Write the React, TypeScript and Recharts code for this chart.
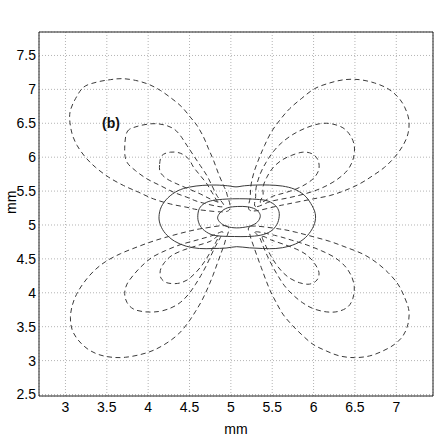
import { CartesianGrid, ComposedChart, Line, ReferenceLine, XAxis, YAxis } from "recharts";

type Pt = [number, number];

// x range and ticks, in mm
const xDomain: [number, number] = [2.68, 7.444];
const yDomain: [number, number] = [2.478, 7.846];
const xTicks = [3, 3.5, 4, 4.5, 5, 5.5, 6, 6.5, 7];
const yTicks = [2.5, 3, 3.5, 4, 4.5, 5, 5.5, 6, 6.5, 7, 7.5];

// dashed lobes (closed contours)
const upperLeftOuter: Pt[] = [
  [3.221, 7.034], [3.382, 7.108], [3.543, 7.143], [3.684, 7.158], [3.845, 7.133], [4.006, 7.074],
  [4.147, 6.985], [4.288, 6.862], [4.408, 6.739], [4.509, 6.591], [4.59, 6.468], [4.67, 6.296],
  [4.73, 6.123], [4.791, 5.951], [4.851, 5.754], [4.911, 5.581], [4.952, 5.458], [4.97, 5.21],
  [4.63, 5.222], [4.469, 5.261], [4.268, 5.31], [4.066, 5.384], [3.885, 5.483], [3.704, 5.581],
  [3.523, 5.704], [3.362, 5.852], [3.241, 6.0], [3.141, 6.172], [3.08, 6.345], [3.052, 6.542],
  [3.06, 6.69], [3.121, 6.862],
];
const upperLeftMiddle: Pt[] = [
  [3.744, 6.369], [3.865, 6.453], [4.046, 6.493], [4.187, 6.478], [4.308, 6.419], [4.388, 6.32],
  [4.469, 6.172], [4.549, 6.025], [4.63, 5.877], [4.71, 5.729], [4.771, 5.581], [4.831, 5.433],
  [4.91, 5.27], [4.63, 5.335], [4.469, 5.409], [4.308, 5.483], [4.147, 5.581], [3.986, 5.68],
  [3.845, 5.803], [3.744, 5.926], [3.716, 6.099],
];
const upperLeftInner: Pt[] = [
  [4.139, 5.901], [4.167, 6.025], [4.268, 6.074], [4.388, 6.059], [4.489, 5.975], [4.549, 5.852],
  [4.63, 5.729], [4.71, 5.606], [4.771, 5.483], [4.831, 5.36], [4.86, 5.33], [4.75, 5.384],
  [4.63, 5.458], [4.489, 5.532], [4.348, 5.606], [4.227, 5.68], [4.147, 5.778],
];

const upperRightOuter: Pt[] = [
  [5.24, 5.21], [5.235, 5.42], [5.246, 5.606], [5.286, 5.803], [5.347, 6.0], [5.407, 6.172],
  [5.488, 6.369], [5.589, 6.542], [5.71, 6.714], [5.851, 6.862], [6.012, 7.01], [6.194, 7.094],
  [6.375, 7.143], [6.556, 7.143], [6.738, 7.094], [6.899, 7.01], [7.02, 6.887], [7.101, 6.739],
  [7.153, 6.542], [7.141, 6.345], [7.081, 6.172], [6.98, 6.0], [6.859, 5.852], [6.718, 5.729],
  [6.556, 5.606], [6.375, 5.507], [6.194, 5.433], [5.992, 5.384], [5.79, 5.335], [5.589, 5.286],
];
const upperRightMiddle: Pt[] = [
  [5.3, 5.27], [5.3, 5.42], [5.306, 5.557], [5.355, 5.754], [5.427, 5.926], [5.508, 6.074],
  [5.609, 6.207], [5.75, 6.335], [5.911, 6.433], [6.073, 6.493], [6.214, 6.493], [6.355, 6.433],
  [6.444, 6.32], [6.492, 6.172], [6.484, 6.0], [6.435, 5.852], [6.355, 5.739], [6.234, 5.631],
  [6.073, 5.532], [5.891, 5.458], [5.69, 5.399], [5.488, 5.35],
];
const upperRightInner: Pt[] = [
  [5.36, 5.33], [5.39, 5.45], [5.387, 5.557], [5.435, 5.704], [5.508, 5.842], [5.609, 5.951],
  [5.73, 6.025], [5.871, 6.074], [5.984, 6.049], [6.052, 5.961], [6.065, 5.828], [6.012, 5.704],
  [5.911, 5.606], [5.79, 5.532], [5.649, 5.473], [5.508, 5.424],
];

const lowerLeftOuter: Pt[] = [
  [4.96, 4.98], [4.67, 4.951], [4.469, 4.901], [4.268, 4.837], [4.066, 4.764], [3.865, 4.675],
  [3.664, 4.576], [3.483, 4.458], [3.342, 4.32], [3.221, 4.148], [3.133, 3.975], [3.08, 3.803],
  [3.06, 3.631], [3.08, 3.458], [3.149, 3.31], [3.262, 3.177], [3.402, 3.089], [3.563, 3.049],
  [3.724, 3.049], [3.905, 3.089], [4.066, 3.153], [4.227, 3.261], [4.368, 3.394], [4.481, 3.557],
  [4.569, 3.719], [4.65, 3.887], [4.722, 4.074], [4.783, 4.256], [4.839, 4.443], [4.891, 4.616],
  [4.932, 4.764],
];
const lowerLeftMiddle: Pt[] = [
  [4.9, 4.9], [4.771, 4.842], [4.59, 4.778], [4.388, 4.709], [4.207, 4.621], [4.046, 4.522],
  [3.926, 4.399], [3.825, 4.266], [3.744, 4.128], [3.716, 3.99], [3.744, 3.857], [3.825, 3.759],
  [3.966, 3.719], [4.127, 3.724], [4.268, 3.773], [4.388, 3.857], [4.489, 3.98], [4.569, 4.118],
  [4.638, 4.256], [4.702, 4.399], [4.759, 4.547], [4.811, 4.68], [4.863, 4.793],
];
const lowerLeftInner: Pt[] = [
  [4.85, 4.84], [4.75, 4.759], [4.59, 4.695], [4.429, 4.631], [4.288, 4.552], [4.195, 4.443],
  [4.147, 4.33], [4.155, 4.217], [4.227, 4.148], [4.356, 4.138], [4.469, 4.187], [4.557, 4.276],
  [4.63, 4.374], [4.694, 4.483], [4.75, 4.596], [4.803, 4.709],
];

const lowerRightOuter: Pt[] = [
  [5.24, 4.98], [5.589, 4.941], [5.79, 4.892], [5.992, 4.828], [6.194, 4.759], [6.395, 4.67],
  [6.597, 4.571], [6.758, 4.448], [6.899, 4.3], [7.02, 4.128], [7.101, 3.931], [7.153, 3.734],
  [7.141, 3.537], [7.081, 3.365], [6.98, 3.241], [6.839, 3.143], [6.677, 3.069], [6.496, 3.044],
  [6.315, 3.069], [6.153, 3.143], [5.992, 3.241], [5.851, 3.389], [5.73, 3.537], [5.629, 3.685],
  [5.548, 3.857], [5.476, 4.03], [5.419, 4.202], [5.367, 4.374], [5.315, 4.547], [5.266, 4.719],
  [5.234, 4.842],
];
const lowerRightMiddle: Pt[] = [
  [5.3, 4.9], [5.548, 4.842], [5.73, 4.778], [5.911, 4.709], [6.093, 4.621], [6.254, 4.522],
  [6.375, 4.399], [6.456, 4.251], [6.492, 4.089], [6.476, 3.921], [6.415, 3.793], [6.294, 3.724],
  [6.153, 3.719], [5.992, 3.768], [5.863, 3.857], [5.75, 3.97], [5.649, 4.103], [5.569, 4.251],
  [5.5, 4.399], [5.44, 4.547], [5.387, 4.695], [5.347, 4.818],
];
const lowerRightInner: Pt[] = [
  [5.38, 4.83], [5.488, 4.778], [5.629, 4.719], [5.79, 4.645], [5.919, 4.557], [6.012, 4.433],
  [6.065, 4.3], [6.04, 4.187], [5.952, 4.128], [5.831, 4.148], [5.71, 4.217], [5.617, 4.315],
  [5.54, 4.433], [5.476, 4.562], [5.427, 4.68],
];

// solid rings round the centre
const ringOuter: Pt[] = [
  [4.131, 5.121], [4.159, 5.268], [4.239, 5.401], [4.359, 5.505], [4.5, 5.559], [4.661, 5.584],
  [4.821, 5.589], [4.962, 5.578], [5.062, 5.562], [5.163, 5.578], [5.303, 5.589], [5.464, 5.589],
  [5.624, 5.574], [5.765, 5.53], [5.886, 5.441], [5.966, 5.318], [6.02, 5.17], [6.012, 5.022],
  [5.946, 4.874], [5.845, 4.761], [5.705, 4.687], [5.544, 4.653], [5.384, 4.653], [5.223, 4.663],
  [5.07, 4.68], [4.942, 4.66], [4.781, 4.653], [4.62, 4.653], [4.46, 4.687], [4.319, 4.761],
  [4.209, 4.874], [4.149, 4.998],
];
const ringMiddle: Pt[] = [
  [4.6, 5.135], [4.62, 5.244], [4.681, 5.318], [4.781, 5.362], [4.942, 5.382], [5.102, 5.387],
  [5.263, 5.382], [5.424, 5.362], [5.524, 5.303], [5.576, 5.219], [5.584, 5.121], [5.556, 5.007],
  [5.484, 4.909], [5.363, 4.85], [5.203, 4.83], [5.042, 4.83], [4.886, 4.835], [4.761, 4.86],
  [4.661, 4.938], [4.612, 5.032],
];
const ringInner: Pt[] = [
  [4.841, 5.121], [4.882, 5.195], [4.962, 5.254], [5.082, 5.273], [5.203, 5.268], [5.295, 5.234],
  [5.343, 5.18], [5.355, 5.121], [5.323, 5.047], [5.243, 4.988], [5.102, 4.958], [4.982, 4.968],
  [4.902, 5.007], [4.853, 5.062],
];

const dashedLobes = [
  upperLeftOuter, upperLeftMiddle, upperLeftInner,
  upperRightOuter, upperRightMiddle, upperRightInner,
  lowerLeftOuter, lowerLeftMiddle, lowerLeftInner,
  lowerRightOuter, lowerRightMiddle, lowerRightInner,
];
const solidRings = [ringOuter, ringMiddle, ringInner];

const toRows = (pts: Pt[]) => pts.map(([x, y]) => ({ x, y }));

// closed Catmull-Rom curve so the contours come out smooth
function closedSpline(context: any) {
  let pts: Pt[] = [];
  return {
    areaStart() {},
    areaEnd() {},
    lineStart() {
      pts = [];
    },
    lineEnd() {
      const n = pts.length;
      if (n < 3) return;
      context.moveTo(pts[0][0], pts[0][1]);
      for (let i = 0; i < n; i++) {
        const p0 = pts[(i - 1 + n) % n];
        const p1 = pts[i];
        const p2 = pts[(i + 1) % n];
        const p3 = pts[(i + 2) % n];
        context.bezierCurveTo(
          p1[0] + (p2[0] - p0[0]) / 6,
          p1[1] + (p2[1] - p0[1]) / 6,
          p2[0] - (p3[0] - p1[0]) / 6,
          p2[1] - (p3[1] - p1[1]) / 6,
          p2[0],
          p2[1],
        );
      }
      context.closePath();
    },
    point(x: number, y: number) {
      pts.push([+x, +y]);
    },
  };
}

const font = "'Liberation Sans', Arial, sans-serif";
const tickStyle = { fill: "#000", fontSize: 14, fontFamily: font };

export default function App() {
  return (
    <div style={{ position: "absolute", left: 0, top: 0, width: 436, height: 436, background: "#fff" }}>
      <ComposedChart width={436} height={436} margin={{ top: 32, right: 3, bottom: 0, left: 0 }}>
        <CartesianGrid stroke="#b4b4b4" strokeDasharray="1 2" />
        <XAxis
          type="number"
          dataKey="x"
          domain={xDomain}
          ticks={xTicks}
          allowDataOverflow
          height={40}
          tickSize={0}
          tickMargin={6}
          tick={tickStyle}
          axisLine={{ stroke: "#222" }}
          label={{ value: "mm", position: "insideBottom", offset: 2, fill: "#000", fontSize: 14, fontFamily: font }}
        />
        <YAxis
          type="number"
          dataKey="y"
          domain={yDomain}
          ticks={yTicks}
          allowDataOverflow
          width={39}
          tickSize={0}
          tickMargin={3}
          tick={tickStyle}
          axisLine={{ stroke: "#222" }}
          label={{ value: "mm", angle: -90, position: "insideLeft", offset: 11, fill: "#000", fontSize: 14, fontFamily: font }}
        />
        <ReferenceLine y={yDomain[1]} stroke="#222" />
        <ReferenceLine x={xDomain[1]} stroke="#222" />
        {dashedLobes.map((pts, i) => (
          <Line
            key={`lobe-${i}`}
            data={toRows(pts)}
            dataKey="y"
            type={closedSpline as any}
            stroke="#3a3a3a"
            strokeWidth={1}
            strokeDasharray="5 3.5"
            dot={false}
            activeDot={false}
            isAnimationActive={false}
          />
        ))}
        {solidRings.map((pts, i) => (
          <Line
            key={`ring-${i}`}
            data={toRows(pts)}
            dataKey="y"
            type={closedSpline as any}
            stroke="#3a3a3a"
            strokeWidth={1}
            dot={false}
            activeDot={false}
            isAnimationActive={false}
          />
        ))}
      </ComposedChart>
      <div
        style={{
          position: "absolute",
          left: 102,
          top: 116,
          fontFamily: font,
          fontWeight: "bold",
          fontSize: 14,
          lineHeight: 1,
          color: "#111",
        }}
      >
        (b)
      </div>
    </div>
  );
}
